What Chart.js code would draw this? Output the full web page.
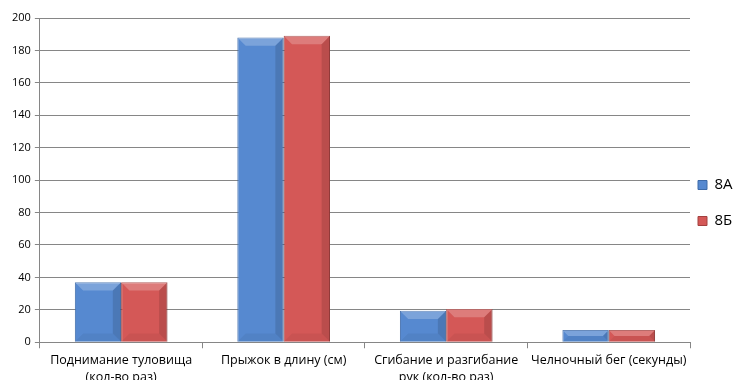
<!DOCTYPE html>
<html>
<head>
<meta charset="utf-8">
<script src="https://cdn.jsdelivr.net/npm/chart.js@4.4.0/dist/chart.umd.min.js"></script>
<style>
  html, body { margin: 0; padding: 0; background: #fff; }
  #wrap { width: 737px; height: 380px; overflow: hidden; }
</style>
</head>
<body>
<div id="wrap"><canvas id="chart" width="737" height="390"></canvas></div>
<script>
// ---- Данные ----
const categories = [
  ['Поднимание туловища', '(кол-во раз)'],
  'Прыжок в длину (см)',
  ['Сгибание и разгибание', 'рук (кол-во раз)'],
  'Челночный бег (секунды)'
];
const class8A = [37, 188, 19.5, 7.5];
const class8B = [37, 189, 20.5, 7.5];
const yTicks = { min: 0, max: 200, step: 20 };

// ---- Цвета ----
const BLUE      = '#5689d0';
const BLUE_DARK = '#3d6aa8';
const RED       = '#d45857';
const RED_DARK  = '#a3403f';

// псевдо-объём: светлая фаска сверху, тень справа
const bevelPlugin = {
  id: 'bevel',
  afterDatasetsDraw(chart) {
    const c = chart.ctx;
    chart.data.datasets.forEach((ds, di) => {
      const meta = chart.getDatasetMeta(di);
      meta.data.forEach(bar => {
        const w = bar.width, x0 = bar.x - w / 2, x1 = bar.x + w / 2;
        const top = bar.y, bot = bar.base, h = bot - top;
        const d = Math.min(w * 0.18, h / 2);
        c.save();
        // верх
        c.fillStyle = 'rgba(255,255,255,0.22)';
        c.beginPath();
        c.moveTo(x0, top); c.lineTo(x1, top);
        c.lineTo(x1 - d, top + d); c.lineTo(x0 + d, top + d);
        c.closePath(); c.fill();
        // правая грань
        c.fillStyle = 'rgba(0,0,0,0.12)';
        c.beginPath();
        c.moveTo(x1, top); c.lineTo(x1, bot);
        c.lineTo(x1 - d, bot - d); c.lineTo(x1 - d, top + d);
        c.closePath(); c.fill();
        // низ
        c.fillStyle = 'rgba(0,0,0,0.05)';
        c.beginPath();
        c.moveTo(x0, bot); c.lineTo(x1, bot);
        c.lineTo(x1 - d, bot - d); c.lineTo(x0 + d, bot - d);
        c.closePath(); c.fill();
        c.restore();
      });
    });
  }
};

// легенда: большие отступы между пунктами, но узкая колонка справа
const legendShift = {
  id: 'legendShift',
  afterLayout(chart) {
    const lg = chart.legend;
    lg.left -= 13;
    lg.top -= 1; lg.bottom -= 1;
  }
};

const ctx = document.getElementById('chart').getContext('2d');
new Chart(ctx, {
  type: 'bar',
  data: {
    labels: categories,
    datasets: [
      {
        label: '8А',
        data: class8A,
        backgroundColor: BLUE,
        borderColor: BLUE_DARK,
        borderWidth: 1
      },
      {
        label: '8Б',
        data: class8B,
        backgroundColor: RED,
        borderColor: RED_DARK,
        borderWidth: 1
      }
    ]
  },
  plugins: [bevelPlugin, legendShift],
  options: {
    responsive: false,
    animation: false,
    layout: { padding: { top: 18, right: 0, left: 8, bottom: 0 } },
    datasets: {
      bar: { categoryPercentage: 0.57, barPercentage: 1.0 }
    },
    plugins: {
      legend: {
        position: 'right',
        maxWidth: 47,
        labels: {
          color: '#000',
          font: { family: 'Open Sans', size: 15 },
          boxWidth: 9,
          boxHeight: 9,
          padding: 21
        }
      },
      tooltip: { enabled: false }
    },
    scales: {
      x: {
        grid: {
          offset: true,
          drawOnChartArea: false,
          drawTicks: true,
          tickLength: 6,
          color: '#868686'
        },
        border: { color: '#868686' },
        ticks: {
          color: '#000',
          font: { family: 'Open Sans', size: 12.5, lineHeight: 1.35 },
          maxRotation: 0,
          autoSkip: false,
          padding: 4
        }
      },
      y: {
        min: yTicks.min,
        max: yTicks.max,
        grid: {
          color: '#868686',
          tickLength: 5
        },
        border: { color: '#868686' },
        ticks: {
          stepSize: yTicks.step,
          color: '#000',
          font: { family: 'Open Sans', size: 11 },
          padding: 4
        }
      }
    }
  }
});
</script>
</body>
</html>
